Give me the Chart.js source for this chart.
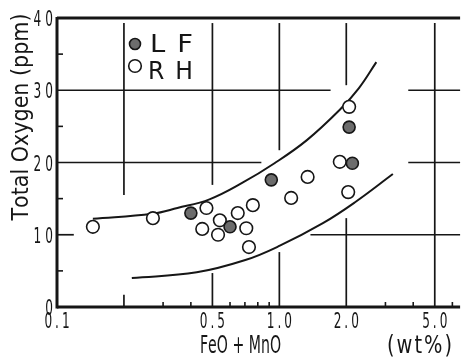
<!DOCTYPE html>
<html>
<head>
<meta charset="utf-8">
<script src="https://cdn.jsdelivr.net/npm/chart.js@4"></script>
<style>
	body { margin: 0; background: #fff; }
	#wrap { width: 468px; height: 360px; }
</style>
</head>
<body>
<div id="wrap"><canvas id="chart" width="468" height="360"></canvas></div>
<script>
// tick labels
const xTicks = [0.1, 0.5, 1.0, 2.0, 5.0];
const xTickLabels = ["0.1", "0.5", "1.0", "2.0", "5.0"];
const yTicks = [0, 10, 20, 30, 40];
const yTickLabels = ["0", "10", "20", "30", "40"];

// LF (filled circles)
const lfX = [0.40, 0.60, 0.92, 2.06, 2.13];
const lfY = [13.0, 11.1, 17.6, 24.9, 19.9];

// RH (open circles)
const rhX = [0.145, 0.27, 0.47, 0.45, 0.54, 0.53, 0.65, 0.71, 0.76, 0.73, 1.13, 1.34, 2.06, 1.87, 2.04];
const rhY = [11.1, 12.3, 13.7, 10.8, 12.0, 10.0, 13.0, 10.9, 14.1, 8.3, 15.1, 18.0, 27.7, 20.1, 15.9];

// band curves
const upperX = [0.145, 0.268, 0.348, 0.485, 0.683, 0.951, 1.33, 1.87, 2.28, 2.73];
const upperY = [12.2, 12.9, 13.7, 14.9, 17.2, 19.9, 23.1, 27.3, 30.3, 33.9];
const lowerX = [0.217, 0.425, 0.703, 1.0, 1.57, 2.19, 3.24];
const lowerY = [4.0, 4.8, 6.5, 8.45, 11.6, 14.5, 18.4];

const seriesNames = ["LF", "RH"];

function pts(xs, ys) {
	return xs.map((x, i) => ({ x: x, y: ys[i] }));
}

// broken grid lines of the original, in data units
const gridV = [
	[0.2, 15.5, 39.3], [0.2, 0, 1.7],
	[0.5, 16.9, 39.3], [0.5, 0, 4.7],
	[1.0, 21.7, 39.3], [1.0, 0, 7.6],
	[2.0, 30.7, 39.3], [2.0, 0, 12.3],
	[5.0, 0, 39.3],
];
const gridH = [
	[30, 0.1, 1.7], [30, 3.8, 6.5],
	[20, 0.1, 0.83], [20, 3.8, 6.5],
	[10, 1.38, 6.5], [10, 0.1, 0.119],
];
const minorY = [5, 15, 25, 35];
const minorX = [0.3, 0.4, 0.6, 0.7, 0.8, 0.9, 3, 4, 6];

const INK = "#161616";
const FILL = "#6c6c6c";

function drawText(ctx, text, x, y, o) {
	ctx.font = o.size + 'px "DejaVu Sans", "Liberation Sans", sans-serif';
	const chars = [...text];
	const widths = chars.map((c) => ctx.measureText(c).width);
	const raw = widths.reduce((a, b) => a + b, 0);
	const gap = o.gap || 0;
	let sx = o.sx || 1;
	if (o.width) sx = (o.width - gap * (chars.length - 1)) / raw;
	const total = raw * sx + gap * (chars.length - 1);
	let cx = o.align === "center" ? -total / 2 : o.align === "right" ? -total : 0;
	ctx.save();
	ctx.translate(x, y);
	if (o.rotate) ctx.rotate(-Math.PI / 2);
	ctx.fillStyle = INK;
	ctx.textAlign = "left";
	ctx.textBaseline = "alphabetic";
	chars.forEach((c, i) => {
		ctx.save();
		ctx.translate(cx, 0);
		ctx.scale(sx, 1);
		ctx.fillText(c, 0, 0);
		ctx.restore();
		cx += widths[i] * sx + gap;
	});
	ctx.restore();
}

function seg(ctx, x1, y1, x2, y2, w) {
	ctx.lineWidth = w;
	ctx.beginPath();
	ctx.moveTo(x1, y1);
	ctx.lineTo(x2, y2);
	ctx.stroke();
}

const sketch = {
	id: "sketch",
	beforeDatasetsDraw(chart) {
		const ctx = chart.ctx;
		const xs = chart.scales.x;
		const ys = chart.scales.y;
		const a = chart.chartArea;
		ctx.save();
		ctx.strokeStyle = INK;
		ctx.lineCap = "butt";

		gridV.forEach(([v, y1, y2]) => {
			const px = xs.getPixelForValue(v);
			seg(ctx, px, ys.getPixelForValue(y1), px, ys.getPixelForValue(y2), 1.7);
		});
		gridH.forEach(([v, x1, x2]) => {
			const py = ys.getPixelForValue(v);
			seg(ctx, xs.getPixelForValue(x1), py, Math.min(a.right, xs.getPixelForValue(x2)), py, 1.7);
		});
		minorY.forEach((v) => {
			const py = ys.getPixelForValue(v);
			seg(ctx, a.left, py, a.left + 6, py, 1.6);
		});
		minorX.forEach((v) => {
			const px = xs.getPixelForValue(v);
			seg(ctx, px, a.bottom, px, a.bottom - 5, 1.6);
		});

		// frame: left, bottom, top
		seg(ctx, a.left, a.top - 1, a.left, a.bottom + 1.5, 3);
		seg(ctx, a.left, a.bottom, a.right, a.bottom, 3);
		seg(ctx, a.left, a.top, a.right, a.top, 3);
		ctx.restore();
	},
	afterDraw(chart) {
		const ctx = chart.ctx;
		const xs = chart.scales.x;
		const ys = chart.scales.y;

		yTicks.forEach((v, i) => {
			drawText(ctx, yTickLabels[i], 53, ys.getPixelForValue(v) + 8, { size: 22, sx: 0.55, gap: 4, align: "right" });
		});
		xTicks.forEach((v, i) => {
			drawText(ctx, xTickLabels[i], xs.getPixelForValue(v), 328, { size: 22, sx: 0.55, gap: 3, align: "center" });
		});

		drawText(ctx, "Total Oxygen (ppm)", 28, 117, { size: 23, width: 207, align: "center", rotate: true });
		drawText(ctx, "FeO + MnO", 200, 353, { size: 24, width: 81, align: "left" });
		drawText(ctx, "(wt%)", 387, 353, { size: 24, width: 65, gap: 2, align: "left" });

		// legend
		ctx.save();
		ctx.strokeStyle = INK;
		ctx.lineWidth = 1.6;
		ctx.fillStyle = FILL;
		ctx.beginPath();
		ctx.arc(135, 44, 5.5, 0, Math.PI * 2);
		ctx.fill();
		ctx.stroke();
		ctx.fillStyle = "#fff";
		ctx.beginPath();
		ctx.arc(135, 66, 6.3, 0, Math.PI * 2);
		ctx.fill();
		ctx.stroke();
		ctx.restore();
		drawText(ctx, seriesNames[0], 150, 52, { size: 25, width: 43, gap: 12, align: "left" });
		drawText(ctx, seriesNames[1], 148, 79, { size: 25, width: 45, gap: 11, align: "left" });
	},
};

const ctx = document.getElementById("chart").getContext("2d");
new Chart(ctx, {
	type: "scatter",
	data: {
		datasets: [
			{
				label: seriesNames[0],
				data: pts(lfX, lfY),
				backgroundColor: FILL,
				borderColor: INK,
				borderWidth: 1.6,
				pointRadius: 6,
				order: 0,
			},
			{
				label: seriesNames[1],
				data: pts(rhX, rhY),
				backgroundColor: "#fff",
				borderColor: INK,
				borderWidth: 1.6,
				pointRadius: 6.3,
				order: 0,
			},
			{
				label: "upper",
				data: pts(upperX, upperY),
				showLine: true,
				borderColor: INK,
				borderWidth: 2,
				pointRadius: 0,
				tension: 0.4,
				order: 1,
			},
			{
				label: "lower",
				data: pts(lowerX, lowerY),
				showLine: true,
				borderColor: INK,
				borderWidth: 2,
				pointRadius: 0,
				tension: 0.4,
				order: 1,
			},
		],
	},
	options: {
		responsive: false,
		devicePixelRatio: 1,
		animation: false,
		layout: { padding: { left: 57, top: 18, right: 0, bottom: 53 } },
		plugins: {
			legend: { display: false },
			tooltip: { enabled: false },
		},
		scales: {
			x: { type: "logarithmic", min: 0.1, max: 6.5, display: false },
			y: { type: "linear", min: 0, max: 40, display: false },
		},
	},
	plugins: [sketch],
});
</script>
</body>
</html>
